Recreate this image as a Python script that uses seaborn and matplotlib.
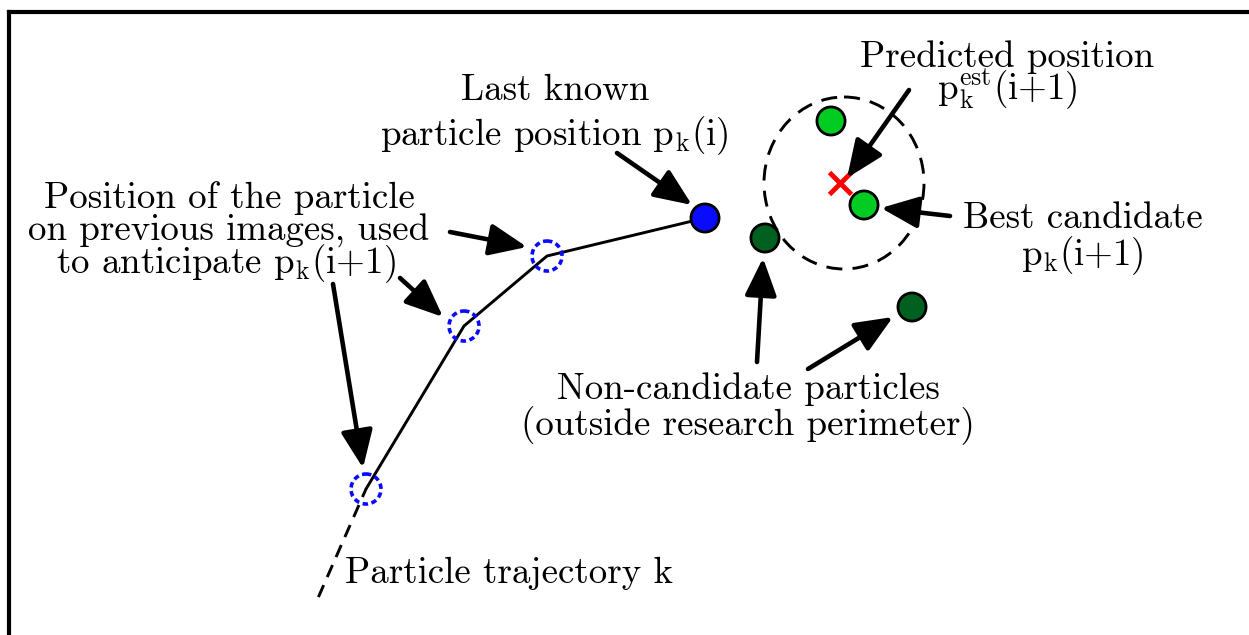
import matplotlib
matplotlib.use("Agg")
import matplotlib.pyplot as plt
from matplotlib.patches import Circle, Ellipse
import pandas as pd
import seaborn as sns

# diagram coordinates are in pixels of the 1249x635 picture (y goes down)
traj_x = [366, 464, 547, 705]
traj_y = [489, 326, 256, 218]
ext_x = [366, 318]
ext_y = [489, 598]

particle_x = [705, 831, 864, 765, 912]
particle_y = [218, 121, 205, 238, 307]
particle_kind = ["last", "candidate", "candidate", "outside", "outside"]
kind_colors = {"last": "#0a0aff", "candidate": "#00cc22", "outside": "#00601f"}

predicted_x = [840]
predicted_y = [183]

search_center = (844, 183)
search_size = (160, 172)

arrow_tail_x = [617, 909, 950, 757, 808, 450, 400, 333]
arrow_tail_y = [153, 90, 216, 362, 369, 232, 278, 284]
arrow_head_x = [692, 847, 881, 763, 893, 527, 443, 363]
arrow_head_y = [205, 178, 208, 258, 317, 247, 317, 468]

labels = [
    ("Last known", 555, 100, "center"),
    (r"particle position p$_\mathrm{k}$(i)", 554, 145, "center"),
    ("Position of the particle", 229, 208, "center"),
    ("on previous images, used", 229, 241, "center"),
    (r"to anticipate p$_\mathrm{k}$(i+1)", 226, 273, "center"),
    ("Predicted position", 1007, 67, "center"),
    (r"p$_\mathrm{k}^\mathrm{est}$(i+1)", 1007, 100, "center"),
    ("Best candidate", 1083, 228, "center"),
    (r"p$_\mathrm{k}$(i+1)", 1082, 265, "center"),
    ("Non-candidate particles", 748, 399, "center"),
    ("(outside research perimeter)", 748, 435, "center"),
    ("Particle trajectory k", 345, 583, "left"),
]

sns.set_style("white")
plt.rcParams["font.family"] = ["cmr10"]
plt.rcParams["mathtext.fontset"] = "cm"
plt.rcParams["axes.formatter.use_mathtext"] = True

fig = plt.figure(figsize=(12.49, 6.35), dpi=100)
ax = fig.add_axes([0, 0, 1, 1])
ax.set_xlim(0, 1249)
ax.set_ylim(635, 0)
ax.axis("off")

# frame (only top and left edges are visible)
ax.plot([9.5, 1249], [11.5, 11.5], color="black", lw=3, solid_capstyle="projecting")
ax.plot([9.5, 9.5], [11.5, 635], color="black", lw=3, solid_capstyle="projecting")

# trajectory
traj = pd.DataFrame({"x": traj_x, "y": traj_y})
sns.lineplot(data=traj, x="x", y="y", sort=False, color="black", lw=2.1, ax=ax)
ax.plot(ext_x, ext_y, color="black", lw=2.1, ls=(1.5, (4.5, 3)))

# previous positions (dashed blue rings)
for x, y in zip(traj_x[:-1], traj_y[:-1]):
    ax.add_patch(Circle((x, y), 15, fill=False, ec="#0a0aff", lw=2.6,
                        ls=(0, (1.5, 1.0)), zorder=3))

# research perimeter
ax.add_patch(Ellipse(search_center, search_size[0], search_size[1], fill=False,
                     ec="black", lw=2.1, ls=(0, (5.5, 3.5)), zorder=2))

# particles
parts = pd.DataFrame({"x": particle_x, "y": particle_y, "kind": particle_kind})
sns.scatterplot(data=parts, x="x", y="y", hue="kind", palette=kind_colors, s=410,
                edgecolor="black", linewidth=2.0, legend=False, zorder=4, ax=ax)

# predicted position
ax.scatter(predicted_x, predicted_y, marker="x", s=250, color="red", lw=3.5, zorder=5)

# arrows
for tx, ty, hx, hy in zip(arrow_tail_x, arrow_tail_y, arrow_head_x, arrow_head_y):
    ax.annotate("", xy=(hx, hy), xytext=(tx, ty), zorder=6,
                arrowprops=dict(arrowstyle="-|>,head_length=0.85,head_width=0.36",
                                mutation_scale=27, lw=3.3, color="black",
                                shrinkA=0, shrinkB=0))

for txt, x, y, ha in labels:
    ax.text(x, y, txt, ha=ha, va="baseline", fontsize=26.6, color="black")

ax.set_xlabel("")
ax.set_ylabel("")
fig.savefig("out.png", dpi=100)
